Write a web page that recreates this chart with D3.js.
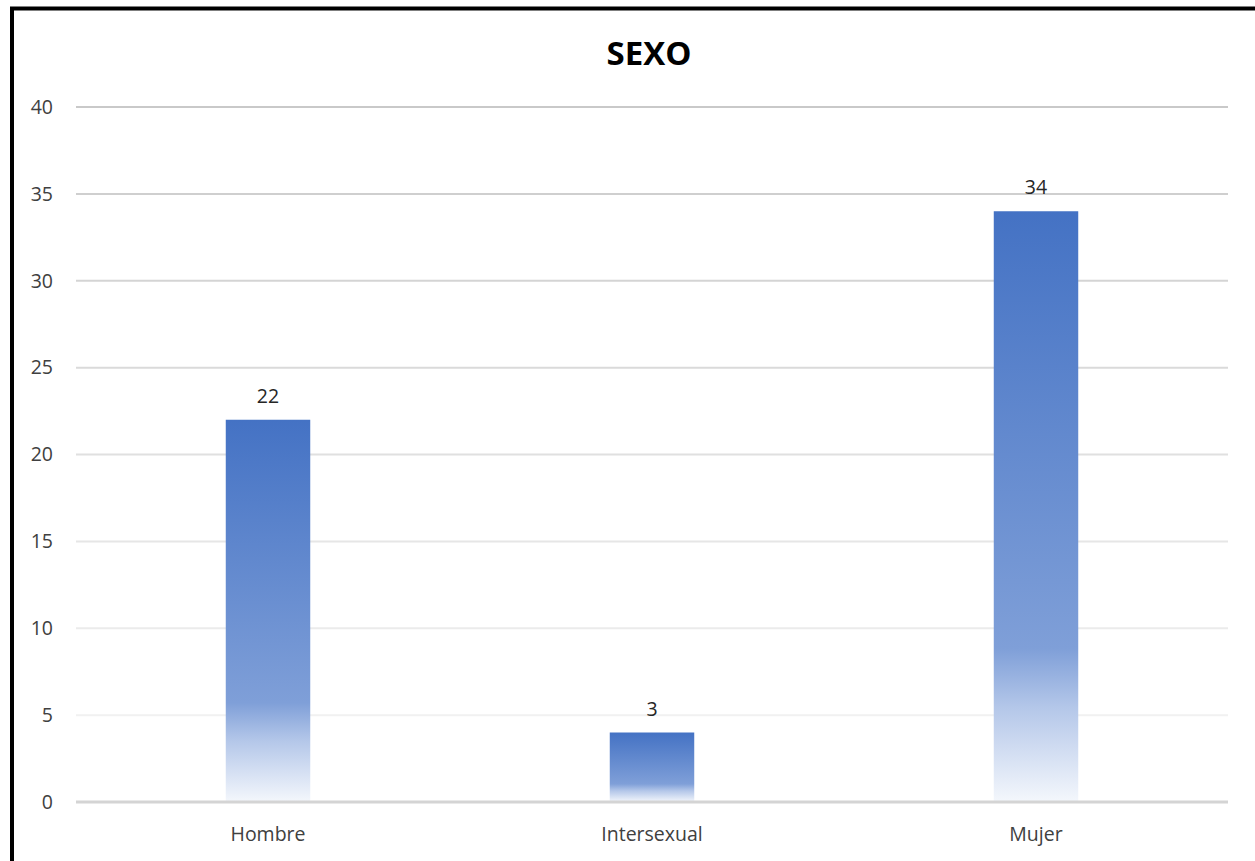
<!DOCTYPE html>
<html><head><meta charset="utf-8">
<script src="https://cdn.jsdelivr.net/npm/d3@7"></script>
<style>html,body{margin:0;padding:0;background:#fff;overflow:hidden;}</style>
</head><body>
<script>
const categories = ["Hombre", "Intersexual", "Mujer"];
const values = [22, 4, 34];
const valueLabels = ["22", "3", "34"];
const yTicks = [0, 5, 10, 15, 20, 25, 30, 35, 40];
const title = "SEXO";

(function () {
const W = 1255, H = 861;
const svg = d3.select("body").append("svg").attr("width", W).attr("height", H).style("display", "block");
const font = "'Open Sans', sans-serif";

svg.append("rect").attr("x", 12).attr("y", 8.5).attr("width", W + 20).attr("height", H + 20)
  .attr("fill", "#fff").attr("stroke", "#000").attr("stroke-width", 4);

const pLeft = 76, pRight = 1228, pTop = 107, pBottom = 802;
const x = d3.scaleBand().domain(categories).range([pLeft, pRight]).paddingInner(0.78).paddingOuter(0.39);
const y = d3.scaleLinear().domain([0, 40]).range([pBottom, pTop]);

const defs = svg.append("defs");
const g = defs.append("linearGradient").attr("id", "barGrad").attr("x1", 0).attr("y1", 0).attr("x2", 0).attr("y2", 1);
g.append("stop").attr("offset", "0%").attr("stop-color", "#4472c4");
g.append("stop").attr("offset", "74%").attr("stop-color", "#7f9fd8");
g.append("stop").attr("offset", "84%").attr("stop-color", "#b4c7e9");
g.append("stop").attr("offset", "100%").attr("stop-color", "#f4f7fc");

const gridColor = d3.scaleLinear().domain([5, 40]).range(["#f1f1f1", "#c9c9c9"]);
svg.append("g").selectAll("line").data(yTicks.filter(t => t > 0)).join("line")
  .attr("x1", pLeft).attr("x2", pRight)
  .attr("y1", d => y(d)).attr("y2", d => y(d))
  .attr("stroke", d => gridColor(d)).attr("stroke-width", 2);

const yAxis = d3.axisLeft(y).tickValues(yTicks).tickSize(0).tickPadding(0);
const ya = svg.append("g").attr("transform", `translate(53,0)`).call(yAxis);
ya.select(".domain").remove();
ya.selectAll("text").attr("font-family", font).attr("font-size", 19.5).attr("fill", "#404040");

svg.append("g").selectAll("rect").data(categories).join("rect")
  .attr("x", d => x(d)).attr("width", x.bandwidth())
  .attr("y", (d, i) => y(values[i])).attr("height", (d, i) => y(0) - y(values[i]))
  .attr("fill", "url(#barGrad)");

svg.append("line").attr("x1", pLeft).attr("x2", pRight).attr("y1", y(0)).attr("y2", y(0))
  .attr("stroke", "#d4d4d4").attr("stroke-width", 3);

svg.append("g").selectAll("text").data(categories).join("text")
  .attr("x", d => x(d) + x.bandwidth() / 2)
  .attr("y", (d, i) => y(values[i]) - 17)
  .attr("text-anchor", "middle").attr("font-family", font).attr("font-size", 19.5).attr("fill", "#262626")
  .text((d, i) => valueLabels[i]);

const xAxis = d3.axisBottom(x).tickSize(0).tickPadding(0);
const xa = svg.append("g").attr("transform", `translate(0,${pBottom + 25})`).call(xAxis);
xa.select(".domain").remove();
xa.selectAll("text").attr("font-family", font).attr("font-size", 19.5).attr("fill", "#404040");

svg.append("text").attr("x", 649).attr("y", 65).attr("text-anchor", "middle")
  .attr("font-family", font).attr("font-weight", "bold").attr("font-size", 33).attr("fill", "#000")
  .text(title);
})();
</script>
</body></html>
